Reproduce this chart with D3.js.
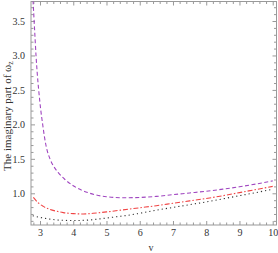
<!DOCTYPE html>
<html>
<head>
<meta charset="utf-8">
<script src="https://cdn.jsdelivr.net/npm/d3@7"></script>
<style>
  body { margin: 0; background: #fff; }
  svg { display: block; }
  .axis text { font-family: "Liberation Serif", "DejaVu Serif", serif; font-size: 10px; fill: #333; }
  .axis path { stroke: #999; }
  .axis line { stroke: #999; }
</style>
</head>
<body>
<div id="chart"></div>
<script>
// curve data
var vPurple = [2.79, 2.84, 2.88, 2.92, 2.96, 3.02, 3.08, 3.14, 3.2, 3.3, 3.4, 3.55, 3.75, 4.0, 4.5, 5.0, 5.5, 6.0, 6.5, 7.0, 7.5, 8.0, 8.5, 9.0, 9.5, 10.0];
var imPurple = [3.8, 3.35, 3.0, 2.72, 2.5, 2.22, 2.0, 1.8, 1.65, 1.5, 1.4, 1.3, 1.2, 1.11, 1.0, 0.95, 0.935, 0.94, 0.955, 0.98, 1.005, 1.03, 1.06, 1.095, 1.135, 1.18];

var vRed = [2.8, 2.95, 3.1, 3.3, 3.5, 3.7, 4.0, 4.3, 4.7, 5.0, 5.5, 6.0, 6.5, 7.0, 7.5, 8.0, 8.5, 9.0, 9.5, 10.0];
var imRed = [0.94, 0.86, 0.81, 0.765, 0.74, 0.72, 0.705, 0.70, 0.715, 0.73, 0.76, 0.79, 0.82, 0.855, 0.89, 0.925, 0.965, 1.01, 1.055, 1.10];

var vBlack = [2.78, 3.0, 3.3, 3.6, 4.0, 4.4, 4.9, 5.3, 5.7, 6.0, 6.5, 7.0, 7.5, 8.0, 8.5, 9.0, 9.5, 10.0];
var imBlack = [0.675, 0.65, 0.625, 0.61, 0.605, 0.61, 0.635, 0.66, 0.685, 0.71, 0.755, 0.795, 0.835, 0.875, 0.92, 0.965, 1.01, 1.06];

var xTicks = [3, 4, 5, 6, 7, 8, 9, 10];
var yTicks = [1.0, 1.5, 2.0, 2.5, 3.0, 3.5];

(function () {
    var width = 278, height = 253;
    var plotLeft = 31, plotRight = 276.5, plotTop = 1.5, plotBottom = 225;

    var svg = d3.select("#chart").append("svg")
        .attr("width", width)
        .attr("height", height);

    var x = d3.scaleLinear().domain([2.729, 10.114]).range([plotLeft, plotRight]);
    var y = d3.scaleLinear().domain([0.54, 3.783]).range([plotBottom, plotTop]);

    var xMinor = d3.range(2.8, 10.11, 0.2).filter(function (d) { return Math.abs(d - Math.round(d)) > 0.01; });
    var yMinor = d3.range(0.6, 3.78, 0.1).filter(function (d) { return Math.abs(d * 2 - Math.round(d * 2)) > 0.01; });

    function addAxis(axis, tx, ty, labels) {
        var g = svg.append("g").attr("class", "axis")
            .attr("transform", "translate(" + tx + "," + ty + ")")
            .call(axis);
        g.select(".domain").remove();
        if (!labels) g.selectAll("text").remove();
        return g;
    }

    // major ticks, inward
    addAxis(d3.axisBottom(x).tickValues(xTicks).tickSizeInner(-4).tickSizeOuter(0).tickPadding(4).tickFormat(d3.format("d")), 0, plotBottom, true);
    addAxis(d3.axisTop(x).tickValues(xTicks).tickSizeInner(-4).tickSizeOuter(0), 0, plotTop, false);
    addAxis(d3.axisLeft(y).tickValues(yTicks).tickSizeInner(-4).tickSizeOuter(0).tickPadding(6).tickFormat(d3.format(".1f")), plotLeft, 0, true);
    addAxis(d3.axisRight(y).tickValues(yTicks).tickSizeInner(-4).tickSizeOuter(0), plotRight, 0, false);

    // minor ticks
    addAxis(d3.axisBottom(x).tickValues(xMinor).tickSizeInner(-2.5).tickSizeOuter(0), 0, plotBottom, false);
    addAxis(d3.axisTop(x).tickValues(xMinor).tickSizeInner(-2.5).tickSizeOuter(0), 0, plotTop, false);
    addAxis(d3.axisLeft(y).tickValues(yMinor).tickSizeInner(-2.5).tickSizeOuter(0), plotLeft, 0, false);
    addAxis(d3.axisRight(y).tickValues(yMinor).tickSizeInner(-2.5).tickSizeOuter(0), plotRight, 0, false);

    // frame
    svg.append("rect")
        .attr("x", plotLeft).attr("y", plotTop)
        .attr("width", plotRight - plotLeft).attr("height", plotBottom - plotTop)
        .attr("fill", "none").attr("stroke", "#999").attr("stroke-width", 1);

    svg.append("clipPath").attr("id", "plotClip")
        .append("rect")
        .attr("x", plotLeft).attr("y", plotTop)
        .attr("width", plotRight - plotLeft).attr("height", plotBottom - plotTop);

    var line = d3.line()
        .x(function (d) { return x(d[0]); })
        .y(function (d) { return y(d[1]); })
        .curve(d3.curveMonotoneX);

    var series = [
        { v: vBlack, im: imBlack, colour: "#333", dash: "1.2,3" },
        { v: vRed, im: imRed, colour: "#f04444", dash: "5,2,1.5,2" },
        { v: vPurple, im: imPurple, colour: "#a046c0", dash: "4,2.5" }
    ];

    var plot = svg.append("g").attr("clip-path", "url(#plotClip)");
    plot.selectAll("path")
        .data(series)
        .enter()
        .append("path")
        .attr("d", function (s) { return line(d3.zip(s.v, s.im)); })
        .attr("fill", "none")
        .attr("stroke", function (s) { return s.colour; })
        .attr("stroke-width", 1.1)
        .attr("stroke-dasharray", function (s) { return s.dash; });

    // axis titles
    svg.append("text")
        .attr("x", 151)
        .attr("y", 251)
        .attr("text-anchor", "middle")
        .style("font-family", "Liberation Serif, serif")
        .style("font-size", "10px")
        .style("fill", "#333")
        .text("v");

    var yTitle = svg.append("text")
        .attr("transform", "translate(11,116) rotate(-90)")
        .attr("text-anchor", "middle")
        .style("font-family", "Liberation Serif, serif")
        .style("font-size", "11px")
        .style("fill", "#333");
    yTitle.append("tspan").text("The imaginary part of ω");
    yTitle.append("tspan").attr("dy", 2).style("font-size", "8px").text("z");
}());
</script>
</body>
</html>
